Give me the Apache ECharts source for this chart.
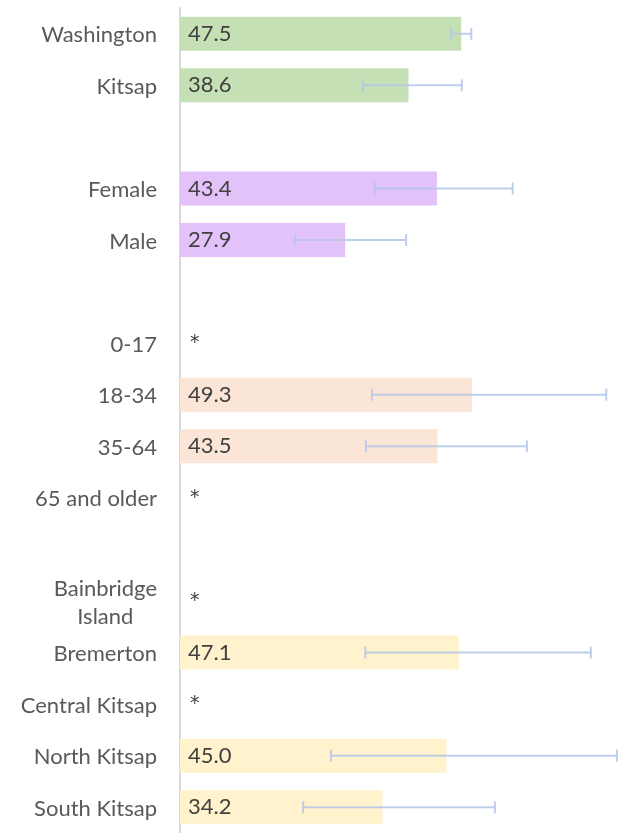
<!DOCTYPE html>
<html>
<head>
<meta charset="utf-8">
<script src="https://cdn.jsdelivr.net/npm/echarts@6/dist/echarts.min.js"></script>
<style>
html,body{margin:0;padding:0;background:#fff;}
#c{width:625px;height:833px;}
</style>
</head>
<body>
<div id="c"></div>
<script>
// Categories top to bottom (blank strings are spacer rows)
var categories = ['Washington', 'Kitsap', ' ', 'Female', 'Male', '  ', '0-17', '18-34', '35-64', '65 and older', '   ', 'Bainbridge Island', 'Bremerton', 'Central Kitsap', 'North Kitsap', 'South Kitsap'];
var values =     [47.5, 38.6, null, 43.4, 27.9, null, null, 49.3, 43.5, null, null, null, 47.1, null, 45.0, 34.2];
var lowerCI =    [45.8, 30.9, null, 32.9, 19.5, null, null, 32.4, 31.4, null, null, null, 31.3, null, 25.5, 20.8];
var upperCI =    [49.2, 47.6, null, 56.2, 38.2, null, null, 72.0, 58.6, null, null, null, 69.4, null, 73.8, 53.2];
var suppressed = ['0-17', '65 and older', 'Bainbridge Island', 'Central Kitsap'];
var groupOf =    [0, 0, -1, 1, 1, -1, 2, 2, 2, 2, -1, 3, 3, 3, 3, 3];
var groupColors = ['#c5e0b4', '#e3c1f9', '#fbe5d6', '#fff2cc'];

var barData = categories.map(function (c, i) {
  if (suppressed.indexOf(c) >= 0) {
    return { value: 0, label: { formatter: '*', fontFamily: 'DejaVu Sans', fontSize: 19, padding: [4, 0, 0, 2] } };
  }
  if (values[i] == null) return null;
  return { value: values[i], itemStyle: { color: groupColors[groupOf[i]] } };
});

var errData = [];
categories.forEach(function (c, i) {
  if (lowerCI[i] != null) errData.push([lowerCI[i], upperCI[i], i]);
});

var chart = echarts.init(document.getElementById('c'));
chart.setOption({
  animation: false,
  grid: { left: 180, top: 8, height: 831, right: 1, containLabel: false },
  xAxis: {
    type: 'value', min: 0, max: 75,
    show: false
  },
  yAxis: {
    type: 'category', data: categories, inverse: true,
    offset: 1,
    axisLine: { show: true, lineStyle: { color: '#d9d9d9', width: 2 } },
    axisTick: { show: false },
    splitLine: { show: false },
    axisLabel: {
      margin: 22,
      color: '#595959',
      fontFamily: 'Lato',
      fontSize: 22,
      padding: [3, 0, 0, 0],
      formatter: function (v) {
        if (v === 'Bainbridge Island') return '{c|Bainbridge}\n{c|Island}';
        return v;
      },
      rich: {
        c: { align: 'center', color: '#595959', fontFamily: 'Lato', fontSize: 22, lineHeight: 28 }
      }
    }
  },
  series: [
    {
      type: 'bar',
      data: barData,
      barWidth: '66%',
      label: {
        show: true,
        position: 'insideLeft',
        distance: 8,
        color: '#404040',
        fontFamily: 'Lato',
        fontSize: 22,
        padding: [3, 0, 0, 0],
        formatter: function (p) { return p.value.toFixed(1); }
      }
    },
    {
      type: 'custom',
      data: errData,
      encode: { x: [0, 1], y: 2 },
      renderItem: function (params, api) {
        var idx = api.value(2);
        var p1 = api.coord([api.value(0), idx]);
        var p2 = api.coord([api.value(1), idx]);
        var h = 6;
        var st = { stroke: '#b4c7e7', lineWidth: 2, opacity: 0.85 };
        return {
          type: 'group',
          children: [
            { type: 'line', shape: { x1: p1[0], y1: p1[1], x2: p2[0], y2: p2[1] }, style: st },
            { type: 'line', shape: { x1: p1[0], y1: p1[1] - h, x2: p1[0], y2: p1[1] + h }, style: st },
            { type: 'line', shape: { x1: p2[0], y1: p2[1] - h, x2: p2[0], y2: p2[1] + h }, style: st }
          ]
        };
      },
      z: 3
    }
  ]
});
</script>
</body>
</html>
